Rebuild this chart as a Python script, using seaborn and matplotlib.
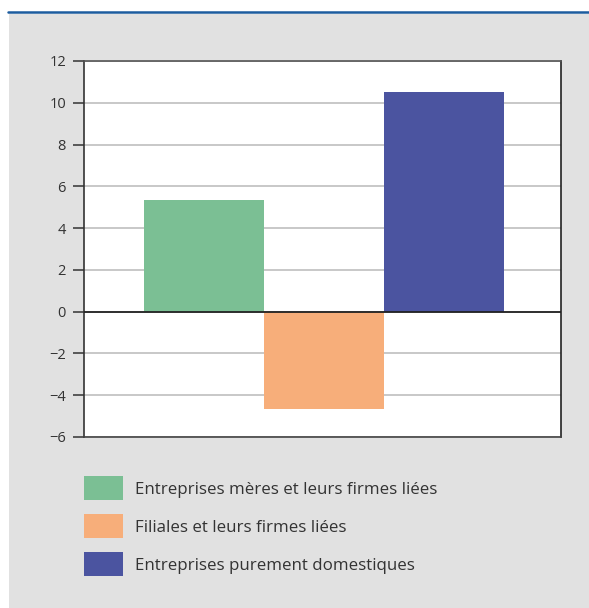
import matplotlib
matplotlib.use("Agg")
import matplotlib.pyplot as plt
from matplotlib.patches import Rectangle
from matplotlib.lines import Line2D
import seaborn as sns

# data
categories = ["Entreprises mères et leurs firmes liées",
              "Filiales et leurs firmes liées",
              "Entreprises purement domestiques"]
values = [5.35, -4.65, 10.5]
colors = ["#7bbf94", "#f7ae7a", "#4b54a0"]
yticks = [-6, -4, -2, 0, 2, 4, 6, 8, 10, 12]

sns.set_theme(style="white")
plt.rcParams["font.family"] = ["Open Sans", "DejaVu Sans"]

W, H = 589, 608
fig = plt.figure(figsize=(W / 100, H / 100), dpi=100, facecolor="white")

# grey panel + blue rule on top
fig.patches.append(Rectangle((9 / W, 0), 1 - 9 / W, 1 - 14 / H, transform=fig.transFigure,
                             facecolor="#e1e1e1", edgecolor="none", zorder=-5))
fig.lines.append(Line2D([8 / W, 1], [1 - 12 / H, 1 - 12 / H], transform=fig.transFigure,
                        color="#1c5c9e", linewidth=1.8, zorder=-5))

ax = fig.add_axes([84 / W, 1 - 437 / H, (561 - 84) / W, (437 - 61) / H])
ax.set_zorder(2)
ax.set_facecolor("white")

sns.barplot(x=categories, y=values, hue=categories, palette=colors,
            width=1.0, saturation=1, legend=False, ax=ax, zorder=2,
            edgecolor="none", linewidth=0)

ax.set_xlim(-1.0, 2.975)
ax.set_ylim(-6, 12)
ax.set_yticks(yticks)
ax.set_xticks([])
ax.set_xlabel("")
ax.set_ylabel("")
ax.yaxis.grid(True, color="#c4c4c4", linewidth=1.3, zorder=0)
ax.set_axisbelow(True)
ax.axhline(0, color="#222222", linewidth=1.3, zorder=3)

ax.tick_params(axis="y", direction="out", length=8, width=1.1, color="#333333",
               labelsize=10.5, labelcolor="#333333", pad=5, left=True)
for side, c in [("left", "#333333"), ("bottom", "#444444"), ("top", "#555555"), ("right", "#222222")]:
    ax.spines[side].set_color(c)
    ax.spines[side].set_linewidth(1.2)

handles = [Rectangle((0, 0), 1, 1, facecolor=c, edgecolor="none") for c in colors]
fig.legend(handles, categories, loc="upper left", bbox_to_anchor=(84 / W, 1 - 476 / H),
           frameon=False, fontsize=12.2, handlelength=2.31, handleheight=1.81,
           labelspacing=0.83, handletextpad=0.71, borderpad=0, borderaxespad=0,
           labelcolor="#333333")

fig.savefig("out.png", dpi=100)
